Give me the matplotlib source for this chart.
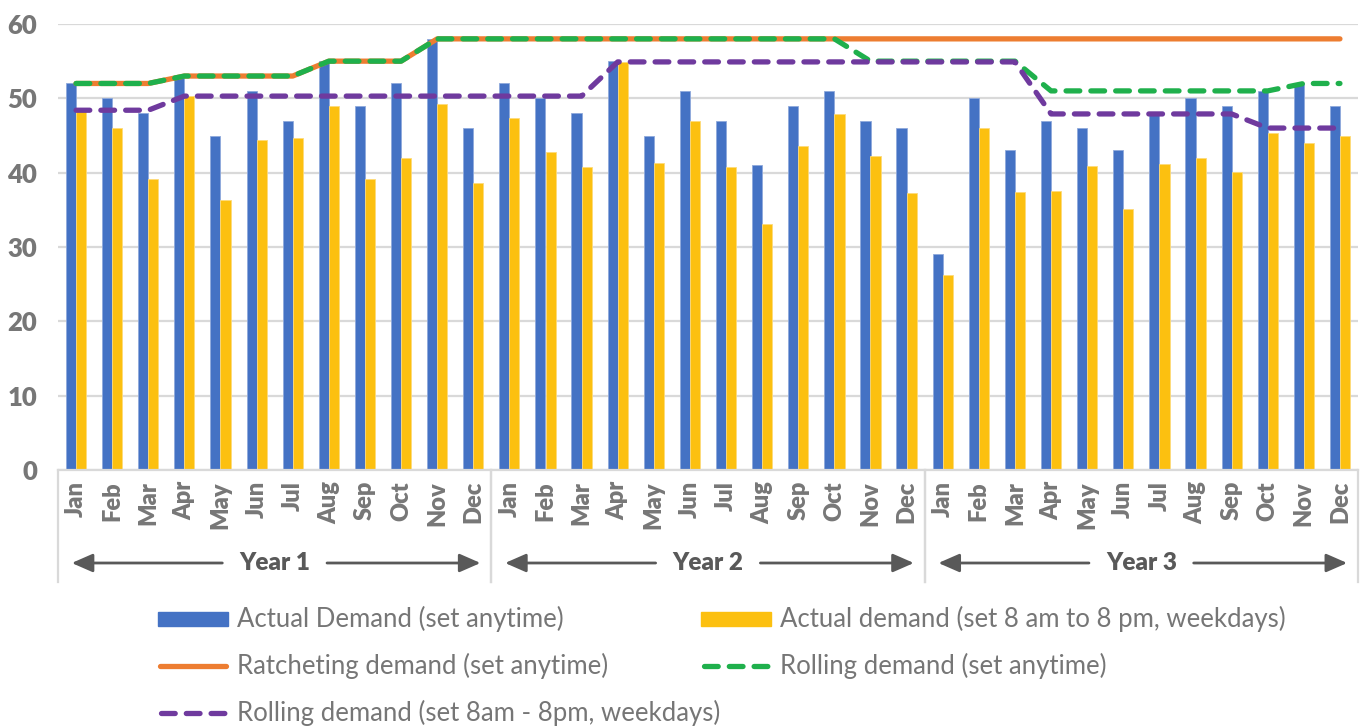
import matplotlib
matplotlib.use("Agg")
import matplotlib.pyplot as plt
import matplotlib.transforms as mtransforms
from matplotlib.lines import Line2D
from matplotlib.patches import Rectangle
import numpy as np

plt.rcParams['font.family'] = ['Lato', 'DejaVu Sans']

months = ["Jan", "Feb", "Mar", "Apr", "May", "Jun",
          "Jul", "Aug", "Sep", "Oct", "Nov", "Dec"]
years = ["Year 1", "Year 2", "Year 3"]

actual_anytime = [52, 50, 48, 53, 45, 51, 47, 55, 49, 52, 58, 46,
                  52, 50, 48, 55, 45, 51, 47, 41, 49, 51, 47, 46,
                  29, 50, 43, 47, 46, 43, 48, 50, 49, 51, 52, 49]
actual_daytime = [48.4, 46, 39.2, 50.3, 36.3, 44.4, 44.7, 49, 39.2, 42, 49.2, 38.6,
                  47.3, 42.8, 40.7, 54.9, 41.3, 46.9, 40.7, 33.1, 43.6, 47.9, 42.2, 37.2,
                  26.2, 46, 37.4, 37.5, 40.9, 35.1, 41.2, 42, 40.1, 45.4, 44, 44.9]
ratchet_anytime = [52, 52, 52, 53, 53, 53, 53, 55, 55, 55, 58, 58,
                   58, 58, 58, 58, 58, 58, 58, 58, 58, 58, 58, 58,
                   58, 58, 58, 58, 58, 58, 58, 58, 58, 58, 58, 58]
rolling_anytime = [52, 52, 52, 53, 53, 53, 53, 55, 55, 55, 58, 58,
                   58, 58, 58, 58, 58, 58, 58, 58, 58, 58, 55, 55,
                   55, 55, 55, 51, 51, 51, 51, 51, 51, 51, 52, 52]
rolling_daytime = [48.4, 48.4, 48.4, 50.3, 50.3, 50.3, 50.3, 50.3, 50.3, 50.3, 50.3, 50.3,
                   50.3, 50.3, 50.3, 54.9, 54.9, 54.9, 54.9, 54.9, 54.9, 54.9, 54.9, 54.9,
                   54.9, 54.9, 54.9, 47.9, 47.9, 47.9, 47.9, 47.9, 47.9, 46, 46, 46]

labels = ["Actual Demand (set anytime)",
          "Actual demand (set 8 am to 8 pm, weekdays)",
          "Ratcheting demand (set anytime)",
          "Rolling demand (set anytime)",
          "Rolling demand (set 8am - 8pm, weekdays)"]

BLUE = "#4472C4"
YELLOW = "#FCC010"
ORANGE = "#ED7D31"
GREEN = "#1FB04C"
PURPLE = "#6F3A9E"
GRID = "#D9D9D9"
TICK = "#777777"
DARK = "#595959"

W, H = 1363, 726
fig = plt.figure(figsize=(W / 100, H / 100), dpi=100)
ax = fig.add_axes([58 / W, 1 - 470 / H, 1300 / W, 446 / H])

n = len(actual_anytime)
x = np.arange(n)
bw = 0.28

ax.bar(x - bw / 2, actual_anytime, width=bw, color=BLUE, edgecolor="#8FA9DC",
       linewidth=0.6, zorder=2)
ax.bar(x + bw / 2, actual_daytime, width=bw, color=YELLOW, edgecolor="#FDDB7A",
       linewidth=0.6, zorder=2)

lw = 3.8
ax.plot(x, ratchet_anytime, color=ORANGE, lw=lw, solid_capstyle="round",
        solid_joinstyle="round", zorder=3)
ax.plot(x, rolling_anytime, color=GREEN, lw=lw, dashes=(2.6, 2.1),
        dash_capstyle="round", dash_joinstyle="round", zorder=4)
ax.plot(x, rolling_daytime, color=PURPLE, lw=lw, dashes=(2.6, 2.1),
        dash_capstyle="round", dash_joinstyle="round", zorder=5)

ax.set_xlim(-0.5, n - 0.5)
ax.set_ylim(0, 60)
ax.set_yticks(range(0, 61, 10))
ax.yaxis.grid(True, color=GRID, lw=1.6, zorder=0)
ax.set_axisbelow(True)
for s in ["top", "right", "left"]:
    ax.spines[s].set_visible(False)
ax.spines["bottom"].set_color(GRID)
ax.spines["bottom"].set_linewidth(1.6)
ax.tick_params(axis="y", length=0, pad=15, labelsize=18.5, labelcolor=TICK)
for t in ax.get_yticklabels():
    t.set_fontweight("heavy")

ax.set_xticks(x)
ax.set_xticklabels(months * 3, rotation=90, fontsize=17, fontweight="heavy",
                   color=TICK)
ax.tick_params(axis="x", length=0, pad=8)

# Year groups below the month labels
trans = mtransforms.blended_transform_factory(ax.transData, ax.transAxes)
sep_bottom = (470 - 582) / 446
arrow_y = (470 - 563) / 446
for k, yr in enumerate(years):
    g0 = 12 * k - 0.5
    g1 = g0 + 12
    for gx in (g0, g1):
        ax.add_line(Line2D([gx, gx], [0, sep_bottom], transform=trans,
                           color=GRID, lw=1.6, clip_on=False))
    c = (g0 + g1) / 2
    ax.text(c, arrow_y, yr, transform=trans, ha="center", va="center",
            fontsize=17.5, fontweight="heavy", color=DARK)
    aprops = dict(arrowstyle="-|>,head_length=0.8,head_width=0.35",
                  color=DARK, lw=2.0, mutation_scale=16, shrinkA=0, shrinkB=0)
    ax.annotate("", xy=(g0 + 0.38, arrow_y), xytext=(c - 1.45, arrow_y),
                xycoords=trans, textcoords=trans, arrowprops=aprops,
                annotation_clip=False)
    ax.annotate("", xy=(g1 - 0.3, arrow_y), xytext=(c + 1.45, arrow_y),
                xycoords=trans, textcoords=trans, arrowprops=aprops,
                annotation_clip=False)

# Legend
def fx(px):
    return px / W


def fy(py):
    return 1 - py / H


entries = [
    (158, 619, "bar", BLUE, labels[0]),
    (701, 619, "bar", YELLOW, labels[1]),
    (158, 666, "solid", ORANGE, labels[2]),
    (701, 666, "dash", GREEN, labels[3]),
    (158, 713, "dash", PURPLE, labels[4]),
]
for hx, hy, kind, col, lab in entries:
    if kind == "bar":
        fig.add_artist(Rectangle((fx(hx), fy(hy + 7)), 70 / W, 14 / H,
                                 transform=fig.transFigure, color=col))
    elif kind == "solid":
        fig.add_artist(Line2D([fx(hx + 2), fx(hx + 68)], [fy(hy), fy(hy)],
                              transform=fig.transFigure, color=col, lw=lw,
                              solid_capstyle="round"))
    else:
        fig.add_artist(Line2D([fx(hx + 3), fx(hx + 70)], [fy(hy), fy(hy)],
                              transform=fig.transFigure, color=col, lw=lw,
                              dashes=(2.6, 2.1), dash_capstyle="round"))
    fig.text(fx(hx + 79), fy(hy), lab, ha="left", va="center",
             fontsize=18.5, color="#767676")

fig.savefig("out.png", dpi=100)
